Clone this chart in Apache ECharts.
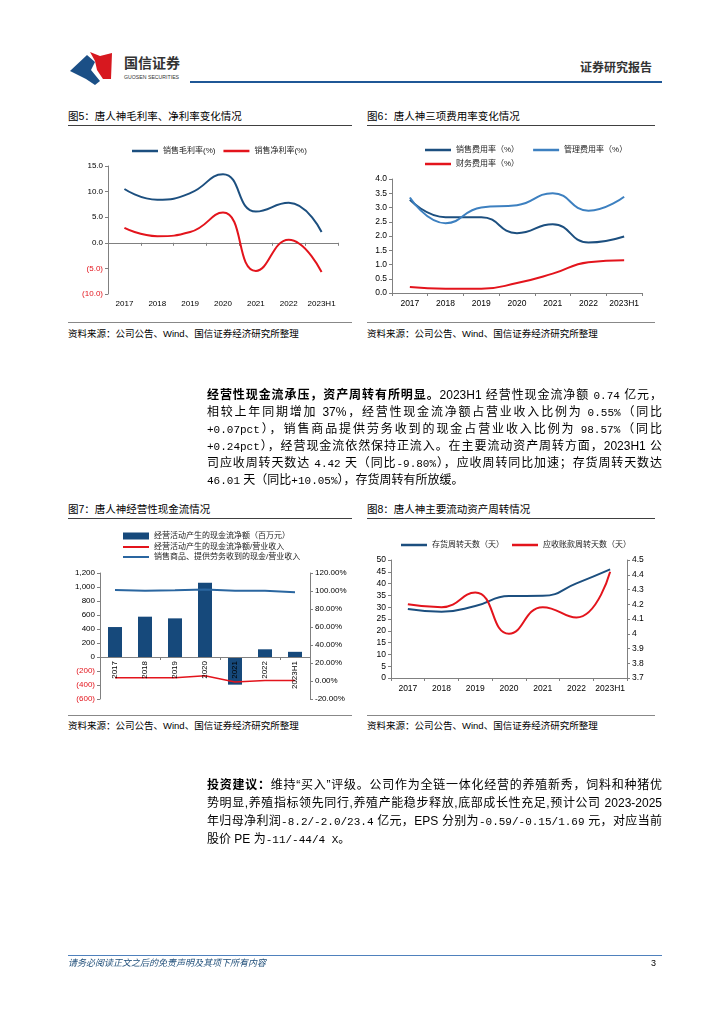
<!DOCTYPE html>
<html><head><meta charset="utf-8">
<script src="https://cdn.jsdelivr.net/npm/echarts@6/dist/echarts.min.js"></script>
<style>
html,body{margin:0;padding:0;background:#fff;}
#page{position:relative;width:724px;height:1024px;overflow:hidden;font-family:'Liberation Sans','Noto Sans CJK SC',sans-serif;color:#000;}
.abs{position:absolute;white-space:nowrap;}
.ttl{font-size:10.5px;line-height:13px;}
.src{font-size:9.5px;line-height:12px;}
.hl{position:absolute;height:0;}
.ln{position:absolute;left:207px;width:455px;height:17px;font-size:12px;line-height:17px;text-align:justify;text-align-last:justify;font-family:'Liberation Sans','Noto Sans CJK SC',sans-serif;}
.ln.last{text-align-last:left;}
.m{font-family:'Liberation Mono',monospace;font-size:11px;}
b{font-weight:bold;}
</style></head>
<body><div id="page">
<svg class="abs" style="left:66px;top:48px" width="50" height="40" viewBox="66 48 50 40">
  <polygon points="70,71 87,55 95,62 91,70 100,81 95,85 86,79" fill="#1b4f86"/>
  <polygon points="90,52 100,56 112,53 111,79 103,79 97,70 95,61" fill="#d7181f"/>
</svg>
<div class="abs" style="left:124px;top:55px;font-size:14px;line-height:17px;color:#333;font-weight:bold;">国信证券</div>
<div class="abs" style="left:124px;top:74px;font-size:5.2px;line-height:7px;color:#333;">GUOSEN SECURITIES</div>
<div class="hl" style="left:190px;top:81px;width:472px;border-top:2px solid #1f5796;"></div>
<div class="abs" style="left:580px;top:61px;font-size:12px;line-height:14px;font-weight:bold;color:#333;">证券研究报告</div>

<div class="abs ttl" style="left:68px;top:110px;">图5：唐人神毛利率、净利率变化情况</div>
<div class="hl" style="left:68px;top:125px;width:284px;border-top:1px solid #404040;"></div>
<div class="hl" style="left:68px;top:322px;width:284px;border-top:1px solid #888;"></div>
<div class="abs src" style="left:68px;top:328px;">资料来源：公司公告、Wind、国信证券经济研究所整理</div>

<div class="abs ttl" style="left:367px;top:110px;">图6：唐人神三项费用率变化情况</div>
<div class="hl" style="left:367px;top:125px;width:288px;border-top:1px solid #404040;"></div>
<div class="hl" style="left:367px;top:322px;width:288px;border-top:1px solid #888;"></div>
<div class="abs src" style="left:367px;top:328px;">资料来源：公司公告、Wind、国信证券经济研究所整理</div>

<div class="abs ttl" style="left:68px;top:503px;">图7：唐人神经营性现金流情况</div>
<div class="hl" style="left:68px;top:518px;width:284px;border-top:1px solid #404040;"></div>
<div class="hl" style="left:68px;top:715px;width:284px;border-top:1px solid #888;"></div>
<div class="abs src" style="left:68px;top:720px;">资料来源：公司公告、Wind、国信证券经济研究所整理</div>

<div class="abs ttl" style="left:367px;top:503px;">图8：唐人神主要流动资产周转情况</div>
<div class="hl" style="left:367px;top:518px;width:288px;border-top:1px solid #404040;"></div>
<div class="hl" style="left:367px;top:715px;width:288px;border-top:1px solid #888;"></div>
<div class="abs src" style="left:367px;top:720px;">资料来源：公司公告、Wind、国信证券经济研究所整理</div>

<div id="chart" style="position:absolute;left:0;top:0;width:724px;height:1024px;"></div>

<div class="ln" style="top:387px;"><b>经营性现金流承压，资产周转有所明显。</b>2023H1 经营性现金流净额 <span class="m">0.74</span> 亿元，</div>
<div class="ln" style="top:404px;">相较上年同期增加 37%，经营性现金流净额占营业收入比例为 <span class="m">0.55%</span>（同比</div>
<div class="ln" style="top:421px;"><span class="m">+0.07pct</span>），销售商品提供劳务收到的现金占营业收入比例为 <span class="m">98.57%</span>（同比</div>
<div class="ln" style="top:438px;"><span class="m">+0.24pct</span>），经营现金流依然保持正流入。在主要流动资产周转方面，2023H1 公</div>
<div class="ln" style="top:455px;">司应收周转天数达 <span class="m">4.42</span> 天（同比<span class="m">-9.80%</span>），应收周转同比加速；存货周转天数达</div>
<div class="ln last" style="top:472px;"><span class="m">46.01</span> 天（同比<span class="m">+10.05%</span>），存货周转有所放缓。</div>

<div class="ln" style="top:777px;"><b>投资建议：</b>维持“买入”评级。公司作为全链一体化经营的养殖新秀，饲料和种猪优</div>
<div class="ln" style="top:795px;">势明显,养殖指标领先同行,养殖产能稳步释放,底部成长性充足,预计公司 2023-2025</div>
<div class="ln" style="top:813px;">年归母净利润<span class="m">-8.2/-2.0/23.4</span> 亿元，EPS 分别为<span class="m">-0.59/-0.15/1.69</span> 元，对应当前</div>
<div class="ln last" style="top:831px;">股价 PE 为<span class="m">-11/-44/4 X</span>。</div>

<div class="hl" style="left:68px;top:955px;width:594px;border-top:1px solid #4f81bd;"></div>
<div class="abs" style="left:68px;top:958px;font-size:9px;line-height:11px;font-style:italic;color:#1f4e79;">请务必阅读正文之后的免责声明及其项下所有内容</div>
<div class="abs" style="left:651px;top:958px;font-size:9px;line-height:11px;">3</div>
</div>
<script>
const years = ['2017','2018','2019','2020','2021','2022','2023H1'];
const grossMargin = [10.5, 8.4, 9.7, 13.4, 6.1, 7.8, 2.1];
const netMargin = [2.9, 1.3, 2.1, 5.9, -5.5, 0.6, -5.7];
const sellingExp = [3.27, 2.66, 2.66, 2.1, 2.41, 1.77, 1.98];
const adminExp = [3.35, 2.45, 3.0, 3.08, 3.5, 2.89, 3.38];
const financeExp = [0.21, 0.15, 0.15, 0.35, 0.68, 1.08, 1.15];
const opCashFlow = [428, 576, 552, 1062, -395, 110, 74];
const opCashRatio = [3.6, 3.6, 3.6, 5.9, -1.1, 0.5, 0.55];
const salesCashRatio = [101.0, 100.3, 100.7, 101.8, 100.3, 100.3, 98.57];
const inventoryDays = [29.2, 28.1, 30.5, 34.7, 34.8, 40.1, 46.01];
const receivableDays = [4.20, 4.18, 4.28, 4.00, 4.18, 4.11, 4.42];

const NAVY = '#1c4f7f', LBLUE = '#3d80c0', RED = '#e3141c', BAR = '#16497b', MBLUE = '#2a66a0';
const FF = "'Liberation Sans','Noto Sans CJK SC',sans-serif";
const axisLineStyle = {show:true, lineStyle:{color:'#808080', width:1}};
const lbl = (extra) => Object.assign({fontSize:8, color:'#000', fontFamily:FF}, extra||{});
const tick = {show:true, length:3, inside:false, lineStyle:{color:'#808080'}};
const legText = {fontSize:8, color:'#222', fontFamily:FF};
const negRed = v => (v < 0 ? '#e3141c' : '#000');

function catAxis(gi, extra) {
  return Object.assign({
    type:'category', gridIndex:gi, data:years, boundaryGap:true,
    axisLine:{show:true, onZero:true, lineStyle:{color:'#808080'}},
    axisTick:{show:true, alignWithLabel:false, length:3, lineStyle:{color:'#808080'}},
    axisLabel:lbl({margin:6, interval:0}), splitLine:{show:false}
  }, extra||{});
}
function valAxis(gi, min, max, interval, fmt, extra) {
  return Object.assign({
    type:'value', gridIndex:gi, min:min, max:max, interval:interval,
    axisLine:axisLineStyle, axisTick:tick,
    axisLabel:lbl({formatter:fmt, margin:5}), splitLine:{show:false}
  }, extra||{});
}

const chart = echarts.init(document.getElementById('chart'), null, {renderer:'canvas'});
const option = {
  animation:false,
  textStyle:{fontFamily:FF},
  grid:[
    {left:108, top:166, width:230, height:128, outerBoundsMode:'none', containLabel:false},
    {left:392, top:179, width:250, height:114, outerBoundsMode:'none', containLabel:false},
    {left:100, top:573, width:210, height:126, outerBoundsMode:'none', containLabel:false},
    {left:391, top:560, width:236, height:118, outerBoundsMode:'none', containLabel:false}
  ],
  xAxis:[
    catAxis(0),
    catAxis(1, {axisLabel:lbl({fontSize:8.5, margin:6, interval:0})}),
    catAxis(2, {z:10, axisLine:{show:true, onZero:true, onZeroAxisIndex:2, lineStyle:{color:'#808080'}},
      axisLabel:{show:false}}),
    catAxis(3, {axisLabel:lbl({fontSize:8.5, margin:6, interval:0})}),
    catAxis(2, {z:10, position:'bottom', axisLine:{show:false, onZero:false}, axisTick:{show:false},
      axisLabel:lbl({rotate:90, margin:-38, interval:0})})
  ],
  yAxis:[
    valAxis(0, -10, 15, 5, null,
      {axisLabel:lbl({formatter: v => v < 0 ? '(' + (-v).toFixed(1) + ')' : v.toFixed(1), color:negRed, margin:5})}),
    valAxis(1, 0, 4, 0.5, null, {axisLabel:lbl({fontSize:8.5, margin:5, formatter: v => v.toFixed(1)})}),
    valAxis(2, -600, 1200, 200, null,
      {axisLabel:lbl({margin:5, color:negRed, formatter: v => {
        const s = Math.abs(v).toString().replace(/\B(?=(\d{3})+(?!\d))/g, ',');
        return v < 0 ? '(' + s + ')' : s; }})}),
    valAxis(2, -20, 120, 20, v => v.toFixed(2) + '%', {position:'right'}),
    valAxis(3, 0, 50, 5, null, {axisLabel:lbl({fontSize:8.5, margin:5, formatter: v => String(v)})}),
    valAxis(3, 3.7, 4.5, 0.1, null, {position:'right', axisLabel:lbl({fontSize:8.5, margin:5, formatter: v => String(+v.toFixed(1))})})
  ],
  legend:[
    {left:127, top:142, itemWidth:26, itemHeight:2.5, itemGap:8, icon:'rect', textStyle:legText,
      data:['销售毛利率(%)','销售净利率(%)']},
    {left:420, top:141, itemWidth:26, itemHeight:2.5, itemGap:14, icon:'rect', textStyle:legText,
      data:['销售费用率（%）','管理费用率（%）']},
    {left:420, top:155, itemWidth:26, itemHeight:2.5, icon:'rect', textStyle:legText,
      data:['财务费用率（%）']},
    {left:118, top:527, itemWidth:26, itemHeight:7, icon:'rect', textStyle:legText,
      data:['经营活动产生的现金流净额（百万元）']},
    {left:118, top:538, orient:'vertical', itemWidth:26, itemHeight:2, itemGap:2, icon:'rect', textStyle:legText,
      data:['经营活动产生的现金流净额/营业收入','销售商品、提供劳务收到的现金/营业收入']},
    {left:396, top:536, itemWidth:26, itemHeight:2.5, itemGap:8, icon:'rect', textStyle:legText,
      data:['存货周转天数（天）','应收账款周转天数（天）']}
  ],
  series:[
    {name:'销售毛利率(%)', type:'line', xAxisIndex:0, yAxisIndex:0, data:grossMargin, smooth:0.5, symbol:'none',
      lineStyle:{color:NAVY, width:2}, itemStyle:{color:NAVY}},
    {name:'销售净利率(%)', type:'line', xAxisIndex:0, yAxisIndex:0, data:netMargin, smooth:0.5, symbol:'none',
      lineStyle:{color:RED, width:2}, itemStyle:{color:RED}},
    {name:'销售费用率（%）', type:'line', xAxisIndex:1, yAxisIndex:1, data:sellingExp, smooth:0.5, symbol:'none',
      lineStyle:{color:NAVY, width:2}, itemStyle:{color:NAVY}},
    {name:'管理费用率（%）', type:'line', xAxisIndex:1, yAxisIndex:1, data:adminExp, smooth:0.5, symbol:'none',
      lineStyle:{color:LBLUE, width:2}, itemStyle:{color:LBLUE}},
    {name:'财务费用率（%）', type:'line', xAxisIndex:1, yAxisIndex:1, data:financeExp, smooth:0.5, symbol:'none',
      lineStyle:{color:RED, width:2}, itemStyle:{color:RED}},
    {name:'经营活动产生的现金流净额（百万元）', type:'bar', xAxisIndex:2, yAxisIndex:2, data:opCashFlow, barWidth:14,
      itemStyle:{color:BAR}},
    {name:'经营活动产生的现金流净额/营业收入', type:'line', xAxisIndex:2, yAxisIndex:3, data:opCashRatio, symbol:'none',
      lineStyle:{color:RED, width:1.5}, itemStyle:{color:RED}, z:5},
    {name:'销售商品、提供劳务收到的现金/营业收入', type:'line', xAxisIndex:2, yAxisIndex:3, data:salesCashRatio, symbol:'none',
      lineStyle:{color:MBLUE, width:2}, itemStyle:{color:MBLUE}, z:5},
    {name:'存货周转天数（天）', type:'line', xAxisIndex:3, yAxisIndex:4, data:inventoryDays, smooth:0.5, symbol:'none',
      lineStyle:{color:NAVY, width:2}, itemStyle:{color:NAVY}},
    {name:'应收账款周转天数（天）', type:'line', xAxisIndex:3, yAxisIndex:5, data:receivableDays, smooth:0.5, symbol:'none',
      lineStyle:{color:RED, width:2}, itemStyle:{color:RED}}
  ]
};
chart.setOption(option);
</script>
</body></html>
